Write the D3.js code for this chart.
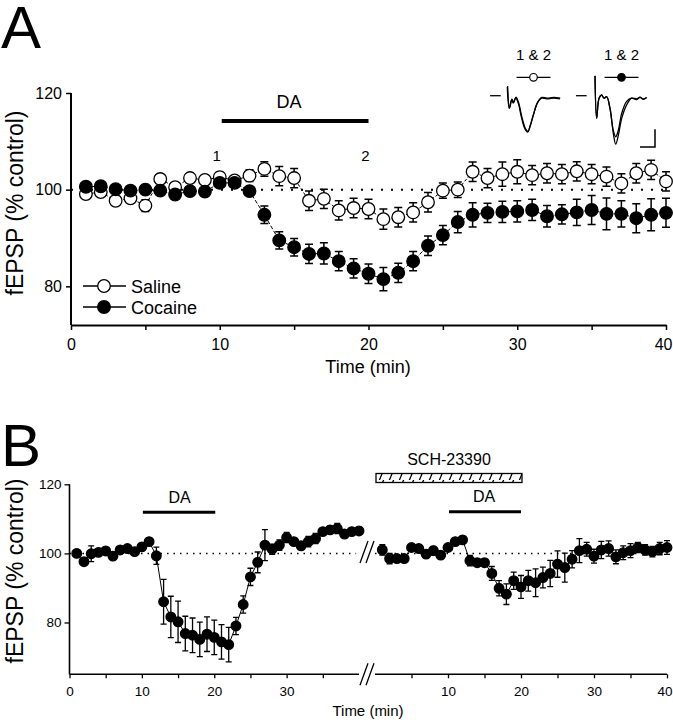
<!DOCTYPE html>
<html><head><meta charset="utf-8">
<script src="https://cdn.jsdelivr.net/npm/d3@7"></script>
<style>body{margin:0;background:#fff}svg{display:block;font-family:"Liberation Sans",Arial,sans-serif}</style>
</head><body><svg id="c" width="673" height="720"></svg>
<script>
// ---------- DATA ----------
const timeA = d3.range(1, 41);
const salineMean = [99.1,99.5,97.7,98.2,96.7,102.2,100.5,102.4,102.0,102.6,101.9,102.9,104.3,102.8,102.4,97.7,98.1,95.7,96.2,96.0,93.9,94.3,95.3,97.4,99.8,100.0,103.7,102.4,103.2,103.7,103.0,103.4,103.2,103.8,103.2,102.7,101.3,103.4,104.1,101.7];
const salineSem  = [1.0,0.8,0.8,0.8,1.2,0.8,0.8,1.0,0.8,1.0,1.0,1.2,1.5,2.0,2.0,2.0,2.0,2.0,2.0,2.0,2.1,2.0,2.0,2.0,1.6,1.6,2.0,2.0,2.5,2.5,2.0,2.0,2.0,2.0,2.0,2.0,2.0,2.0,2.0,2.0];
const cocaineMean = [100.6,100.7,100.1,99.8,100.0,99.8,99.0,99.7,99.6,101.4,101.4,99.7,94.8,89.5,88.1,86.7,86.8,85.2,83.7,82.6,81.5,82.8,85.2,88.4,90.6,93.3,94.8,95.2,95.4,95.5,95.8,94.5,94.9,95.3,95.8,95.0,95.0,94.1,94.8,95.2];
const cocaineSem  = [0.8,0.8,0.7,0.7,0.7,0.7,0.7,0.7,0.7,0.8,0.8,0.8,1.8,1.8,1.8,2.0,2.2,2.0,2.0,2.0,2.4,2.0,2.0,2.0,2.0,2.2,2.5,2.0,2.2,2.2,2.2,2.2,2.0,2.7,3.0,3.3,2.7,3.0,3.3,3.0];

const timeB = d3.range(1, 41);
const bLeftMean = [100,97.6,99.9,100.3,100.7,99.2,101,101.4,100.5,101.9,103.4,99.3,86,81.6,80.2,76.8,76.3,75.1,76.6,75.7,74.4,73.6,79,85.2,93.2,97.4,102.4,101.2,102.4,104.6,103.4,102.2,103.4,104.3,106.3,106.8,107.2,105.6,106.3,106.5];
const bLeftSem  = [0.5,1,2.3,0.8,0.8,0.8,0.8,0.8,0.8,1,1,2.5,6.5,6,6,5,5,5,5,5,5,5,2.5,2.5,2.5,3,4.5,1.5,1.5,1.5,1,1,1.5,1.5,1,1,1.5,1,1,1];
const bRightMean = [101,98.5,98.5,98.5,101.7,101.4,99.8,100.8,99.5,101.7,103.4,103.9,97.9,97.3,97.3,94.2,89.9,88.2,92.1,90.3,92.1,91.5,93,94.2,96.9,95.9,98.3,100.8,101.2,99.2,101,101.4,99,100.2,100.8,101.7,101,100.5,101.4,101.7];
const bRightSem  = [1.5,1.5,1,1,0.8,0.8,1,1.2,1,1,1,1,1.5,1,1,2,2.2,3,2.5,3.3,3,4,3,3.8,3.8,4.2,2.5,3.5,2,2,2.5,2.2,2,2,2,1.5,1.5,1.5,1.8,2];

const yTicks = [80, 100, 120];
const xTicksA = [0,5,10,15,20,25,30,35,40];
const xTicksBLeft = [0,5,10,15,20,25,30,35];
const xTicksBRight = [5,10,15,20,25,30,35,40];
const daPeriod = [10, 20];
const schPeriod = [0, 20];
const sampleTimes = [{t:10,label:"1"},{t:20,label:"2"}];

// inset traces: [ms, mV]
const traceSalinePre = [[-11.3,0],[-4.2,0]];
const traceSaline = [[0.2,0.25],[1.5,-0.36],[3.1,-0.12],[4.2,-0.21],[5.8,-0.06],[7.5,-0.21],[9.8,-0.64],[12,-0.94],[13.8,-1.03],[15.3,-0.87],[17.5,-0.55],[20.2,-0.21],[23.1,-0.07],[26.4,-0.09],[30.9,-0.07],[35.3,-0.09]];
const traceCocPre = [[-12.7,0],[-5.6,0]];
const traceCoc1 = [[0,0.56],[1.1,-0.64],[2.7,-0.07],[4.4,0.02],[6,-0.07],[7.8,-0.03],[10,-0.36],[12.2,-1.06],[13.8,-1.37],[15.6,-1.11],[17.8,-0.64],[21.1,-0.26],[24.4,-0.07],[27.8,-0.09],[30,-0.05],[32.2,-0.09],[34.4,-0.05]];
const traceCoc2 = [[0,0.56],[1.1,-0.64],[2.7,-0.07],[4.4,0.02],[6,-0.07],[7.8,-0.03],[10,-0.36],[12.2,-0.98],[13.8,-1.16],[15.6,-0.97],[17.8,-0.5],[21.1,-0.16],[24.4,-0.07],[27.8,-0.11],[30,-0.04],[32.2,-0.1],[34.4,-0.05]];
const scaleBar = {ms: 10, mV: 0.5};

// ---------- DRAW ----------
const svg = d3.select("#c");
svg.append("rect").attr("width",673).attr("height",720).attr("fill","#fff");

function errorBars(g, times, mean, sem, x, y, cap, sw){
  g.selectAll(null).data(times).enter().append("path")
    .attr("d",(t,i)=>{
      const cx=x(t), y1=y(mean[i]+sem[i]), y2=y(mean[i]-sem[i]);
      return `M${cx},${y1}V${y2}M${cx-cap},${y1}H${cx+cap}M${cx-cap},${y2}H${cx+cap}`;
    }).attr("stroke","#000").attr("stroke-width",sw).attr("fill","none");
}
function series(g, times, mean, x, y, dash, sw){
  g.append("path").datum(times)
    .attr("d", d3.line().x(t=>x(t)).y((t,i)=>y(mean[i])))
    .attr("fill","none").attr("stroke","#000").attr("stroke-width",sw)
    .attr("stroke-dasharray",dash);
}
function points(g, times, mean, x, y, r, open){
  g.selectAll(null).data(times).enter().append("circle")
    .attr("cx",t=>x(t)).attr("cy",(t,i)=>y(mean[i])).attr("r",r)
    .attr("fill",open?"#fff":"#000").attr("stroke","#000").attr("stroke-width",1.3);
}

// ===== Panel A =====
const xA = d3.scaleLinear().domain([0,40]).range([71,666]);
const yA = d3.scaleLinear().domain([72,120]).range([325,93]);
svg.append("text").attr("x",1).attr("y",48).attr("font-size",60).text("A");

const gA = svg.append("g");
gA.append("line").attr("x1",xA(0)).attr("x2",xA(40)).attr("y1",yA(100)).attr("y2",yA(100))
  .attr("stroke","#000").attr("stroke-width",2).attr("stroke-dasharray","2,8");

errorBars(gA, timeA, salineMean, salineSem, xA, yA, 4, 1.5);
series(gA, timeA, salineMean, xA, yA, "3,2", 1);
points(gA, timeA, salineMean, xA, yA, 6.3, true);
errorBars(gA, timeA, cocaineMean, cocaineSem, xA, yA, 4, 1.5);
series(gA, timeA, cocaineMean, xA, yA, "4,2", 1);
points(gA, timeA, cocaineMean, xA, yA, 6.3, false);

const axA = gA.append("g").attr("transform",`translate(0,325)`)
  .call(d3.axisBottom(xA).tickValues(xTicksA).tickFormat(d=>d%10===0?d:"").tickSize(5).tickSizeOuter(0));
axA.select(".domain").attr("stroke-width",2);
axA.selectAll(".tick line").attr("stroke-width",1.5);
axA.selectAll("text").attr("font-size",16).attr("font-family","Liberation Sans, Arial").attr("dy","1.05em").attr("fill","#000");
axA.selectAll(".tick").filter(d=>d===40).select("text").attr("text-anchor","end").attr("x",6);
const ayA = gA.append("g").attr("transform",`translate(71,0)`)
  .call(d3.axisLeft(yA).tickValues(yTicks).tickSize(5).tickSizeOuter(0));
ayA.select(".domain").attr("d",`M0,${yA(120)}V325`).attr("stroke-width",2);
ayA.selectAll(".tick line").attr("stroke-width",1.5);
ayA.selectAll("text").attr("font-size",16).attr("font-family","Liberation Sans, Arial").attr("x",-9).attr("fill","#000");

svg.append("text").attr("x",368).attr("y",373).attr("text-anchor","middle").attr("font-size",18).text("Time (min)");
svg.append("text").attr("transform",`translate(23,203) rotate(-90)`).attr("text-anchor","middle").attr("font-size",23).text("fEPSP (% control)");

gA.append("line").attr("x1",xA(daPeriod[0])+2).attr("x2",xA(daPeriod[1])).attr("y1",121).attr("y2",121).attr("stroke","#000").attr("stroke-width",4);
gA.append("text").attr("x",(xA(daPeriod[0])+xA(daPeriod[1]))/2-5).attr("y",108).attr("text-anchor","middle").attr("font-size",18).text("DA");
gA.selectAll(null).data(sampleTimes).enter().append("text")
  .attr("x",d=>xA(d.t)-3).attr("y",161).attr("text-anchor","middle").attr("font-size",15).text(d=>d.label);

const legA = [{y:286,open:true,label:"Saline"},{y:307,open:false,label:"Cocaine"}];
const lg = gA.selectAll(null).data(legA).enter().append("g");
lg.append("line").attr("x1",83).attr("x2",126).attr("y1",d=>d.y).attr("y2",d=>d.y).attr("stroke","#000").attr("stroke-width",1.3);
lg.append("circle").attr("cx",104).attr("cy",d=>d.y).attr("r",6.3).attr("fill",d=>d.open?"#fff":"#000").attr("stroke","#000").attr("stroke-width",1.3);
lg.append("text").attr("x",131).attr("y",d=>d.y+6.5).attr("font-size",18).text(d=>d.label);

// inset traces
const xTr1 = d3.scaleLinear().domain([0,10]).range([507,522]);
const xTr2 = d3.scaleLinear().domain([0,10]).range([595,610]);
const yTr = d3.scaleLinear().domain([0,-0.5]).range([95.7,113.4]);
const trLine1 = d3.line().x(d=>xTr1(d[0])).y(d=>yTr(d[1])).curve(d3.curveCatmullRom);
const trLine2 = d3.line().x(d=>xTr2(d[0])).y(d=>yTr(d[1])).curve(d3.curveCatmullRom);
const gT = svg.append("g").attr("fill","none").attr("stroke","#000").attr("stroke-width",1.3);
gT.append("path").attr("d",trLine1(traceSalinePre));
gT.append("path").attr("d",trLine1(traceSaline));
gT.append("path").attr("d",trLine1(traceSaline.map(d=>[d[0]+0.2,d[1]+0.02])));
gT.append("path").attr("d",trLine2(traceCocPre));
gT.append("path").attr("d",trLine2(traceCoc1));
gT.append("path").attr("d",trLine2(traceCoc2));
gT.append("path").attr("d",`M${xTr2(30)},${yTr(-1.45)}H${xTr2(30+scaleBar.ms)}V${yTr(-1.45+scaleBar.mV)}`).attr("stroke-width",1.5);
const insetLab = [{x:533.5,open:true},{x:621.5,open:false}];
const il = svg.selectAll(null).data(insetLab).enter().append("g");
il.append("text").attr("x",d=>d.x).attr("y",60).attr("text-anchor","middle").attr("font-size",15).text("1 & 2");
il.append("line").attr("x1",d=>d.x-17).attr("x2",d=>d.x+17).attr("y1",77.3).attr("y2",77.3).attr("stroke","#000").attr("stroke-width",1.3);
il.append("circle").attr("cx",d=>d.x).attr("cy",77.3).attr("r",3.8).attr("fill",d=>d.open?"#fff":"#000").attr("stroke","#000").attr("stroke-width",1.2);

// ===== Panel B =====
const xB1 = d3.scaleLinear().domain([0,40]).range([69.5,359]);
const xB2 = d3.scaleLinear().domain([0,40]).range([375,667]);
const yB = d3.scaleLinear().domain([65,120]).range([674.3,484.3]);
svg.append("text").attr("x",1).attr("y",466).attr("font-size",60).text("B");

const gB = svg.append("g");
gB.append("line").attr("x1",xB1(0)).attr("x2",xB1(39.6)).attr("y1",yB(100)).attr("y2",yB(100))
  .attr("stroke","#000").attr("stroke-width",1.5).attr("stroke-dasharray","1.5,5");
gB.append("line").attr("x1",xB2(0)).attr("x2",xB2(40)).attr("y1",yB(100)).attr("y2",yB(100))
  .attr("stroke","#000").attr("stroke-width",1.5).attr("stroke-dasharray","1.5,5");

errorBars(gB, timeB, bLeftMean, bLeftSem, xB1, yB, 3, 1.3);
series(gB, timeB, bLeftMean, xB1, yB, null, 1);
points(gB, timeB, bLeftMean, xB1, yB, 4.8, false);
errorBars(gB, timeB, bRightMean, bRightSem, xB2, yB, 3, 1.3);
series(gB, timeB, bRightMean, xB2, yB, null, 1);
points(gB, timeB, bRightMean, xB2, yB, 4.8, false);

function styleAx(a){
  a.selectAll(".tick line").attr("stroke-width",1.3);
  a.selectAll("text").attr("font-size",13.5).attr("font-family","Liberation Sans, Arial").attr("fill","#000");
}
const axB1 = gB.append("g").attr("transform","translate(0,674.3)")
  .call(d3.axisBottom(xB1).tickValues(xTicksBLeft).tickFormat(d=>d%10===0?d:"").tickSize(4).tickSizeOuter(0));
axB1.select(".domain").attr("d",`M${xB1(0)},0H359`).attr("stroke-width",1.6);
styleAx(axB1); axB1.selectAll("text").attr("dy","1.1em");
const axB2 = gB.append("g").attr("transform","translate(0,674.3)")
  .call(d3.axisBottom(xB2).tickValues(xTicksBRight).tickFormat(d=>d%10===0?d:"").tickSize(4).tickSizeOuter(0));
axB2.select(".domain").attr("d",`M${xB2(0)},0H${xB2(40)}`).attr("stroke-width",1.6);
styleAx(axB2); axB2.selectAll("text").attr("dy","1.1em");
axB2.selectAll(".tick").filter(d=>d===40).select("text").attr("text-anchor","end").attr("x",5);
const ayB = gB.append("g").attr("transform","translate(69.5,0)")
  .call(d3.axisLeft(yB).tickValues(yTicks).tickSize(5).tickSizeOuter(0));
ayB.select(".domain").attr("d",`M0,${yB(120)}V674.3`).attr("stroke-width",1.6);
styleAx(ayB); ayB.selectAll("text").attr("x",-8);

const brk = gB.append("g").attr("stroke","#000").attr("stroke-width",1.3).attr("fill","none");
[674.3, 552].forEach(cy=>{
  brk.append("path").attr("d",`M360,${cy+11}L368,${cy-11}M366,${cy+11}L374,${cy-11}`);
});
svg.append("text").attr("x",368).attr("y",716).attr("text-anchor","middle").attr("font-size",15).text("Time (min)");
svg.append("text").attr("transform",`translate(23,571) rotate(-90)`).attr("text-anchor","middle").attr("font-size",23).text("fEPSP (% control)");

gB.append("line").attr("x1",xB1(daPeriod[0])+1).attr("x2",xB1(daPeriod[1])+1).attr("y1",512.3).attr("y2",512.3).attr("stroke","#000").attr("stroke-width",3);
gB.append("text").attr("x",179.5).attr("y",503).attr("text-anchor","middle").attr("font-size",16).text("DA");
gB.append("line").attr("x1",xB2(daPeriod[0])+1).attr("x2",xB2(daPeriod[1])).attr("y1",511.7).attr("y2",511.7).attr("stroke","#000").attr("stroke-width",3);
gB.append("text").attr("x",484).attr("y",502).attr("text-anchor","middle").attr("font-size",16).text("DA");

const defs = svg.append("defs");
const pat = defs.append("pattern").attr("id","hatch").attr("patternUnits","userSpaceOnUse").attr("width",10).attr("height",10);
pat.append("path").attr("d","M-1,11L4,-1M9,11L14,-1").attr("stroke","#000").attr("stroke-width",1.3);
gB.append("rect").attr("x",xB2(schPeriod[0])+1).attr("y",473.5).attr("width",xB2(schPeriod[1])-xB2(schPeriod[0])).attr("height",9)
  .attr("fill","url(#hatch)").attr("stroke","#000").attr("stroke-width",1.3);
gB.append("text").attr("x",449).attr("y",465).attr("text-anchor","middle").attr("font-size",16).text("SCH-23390");
</script></body></html>
